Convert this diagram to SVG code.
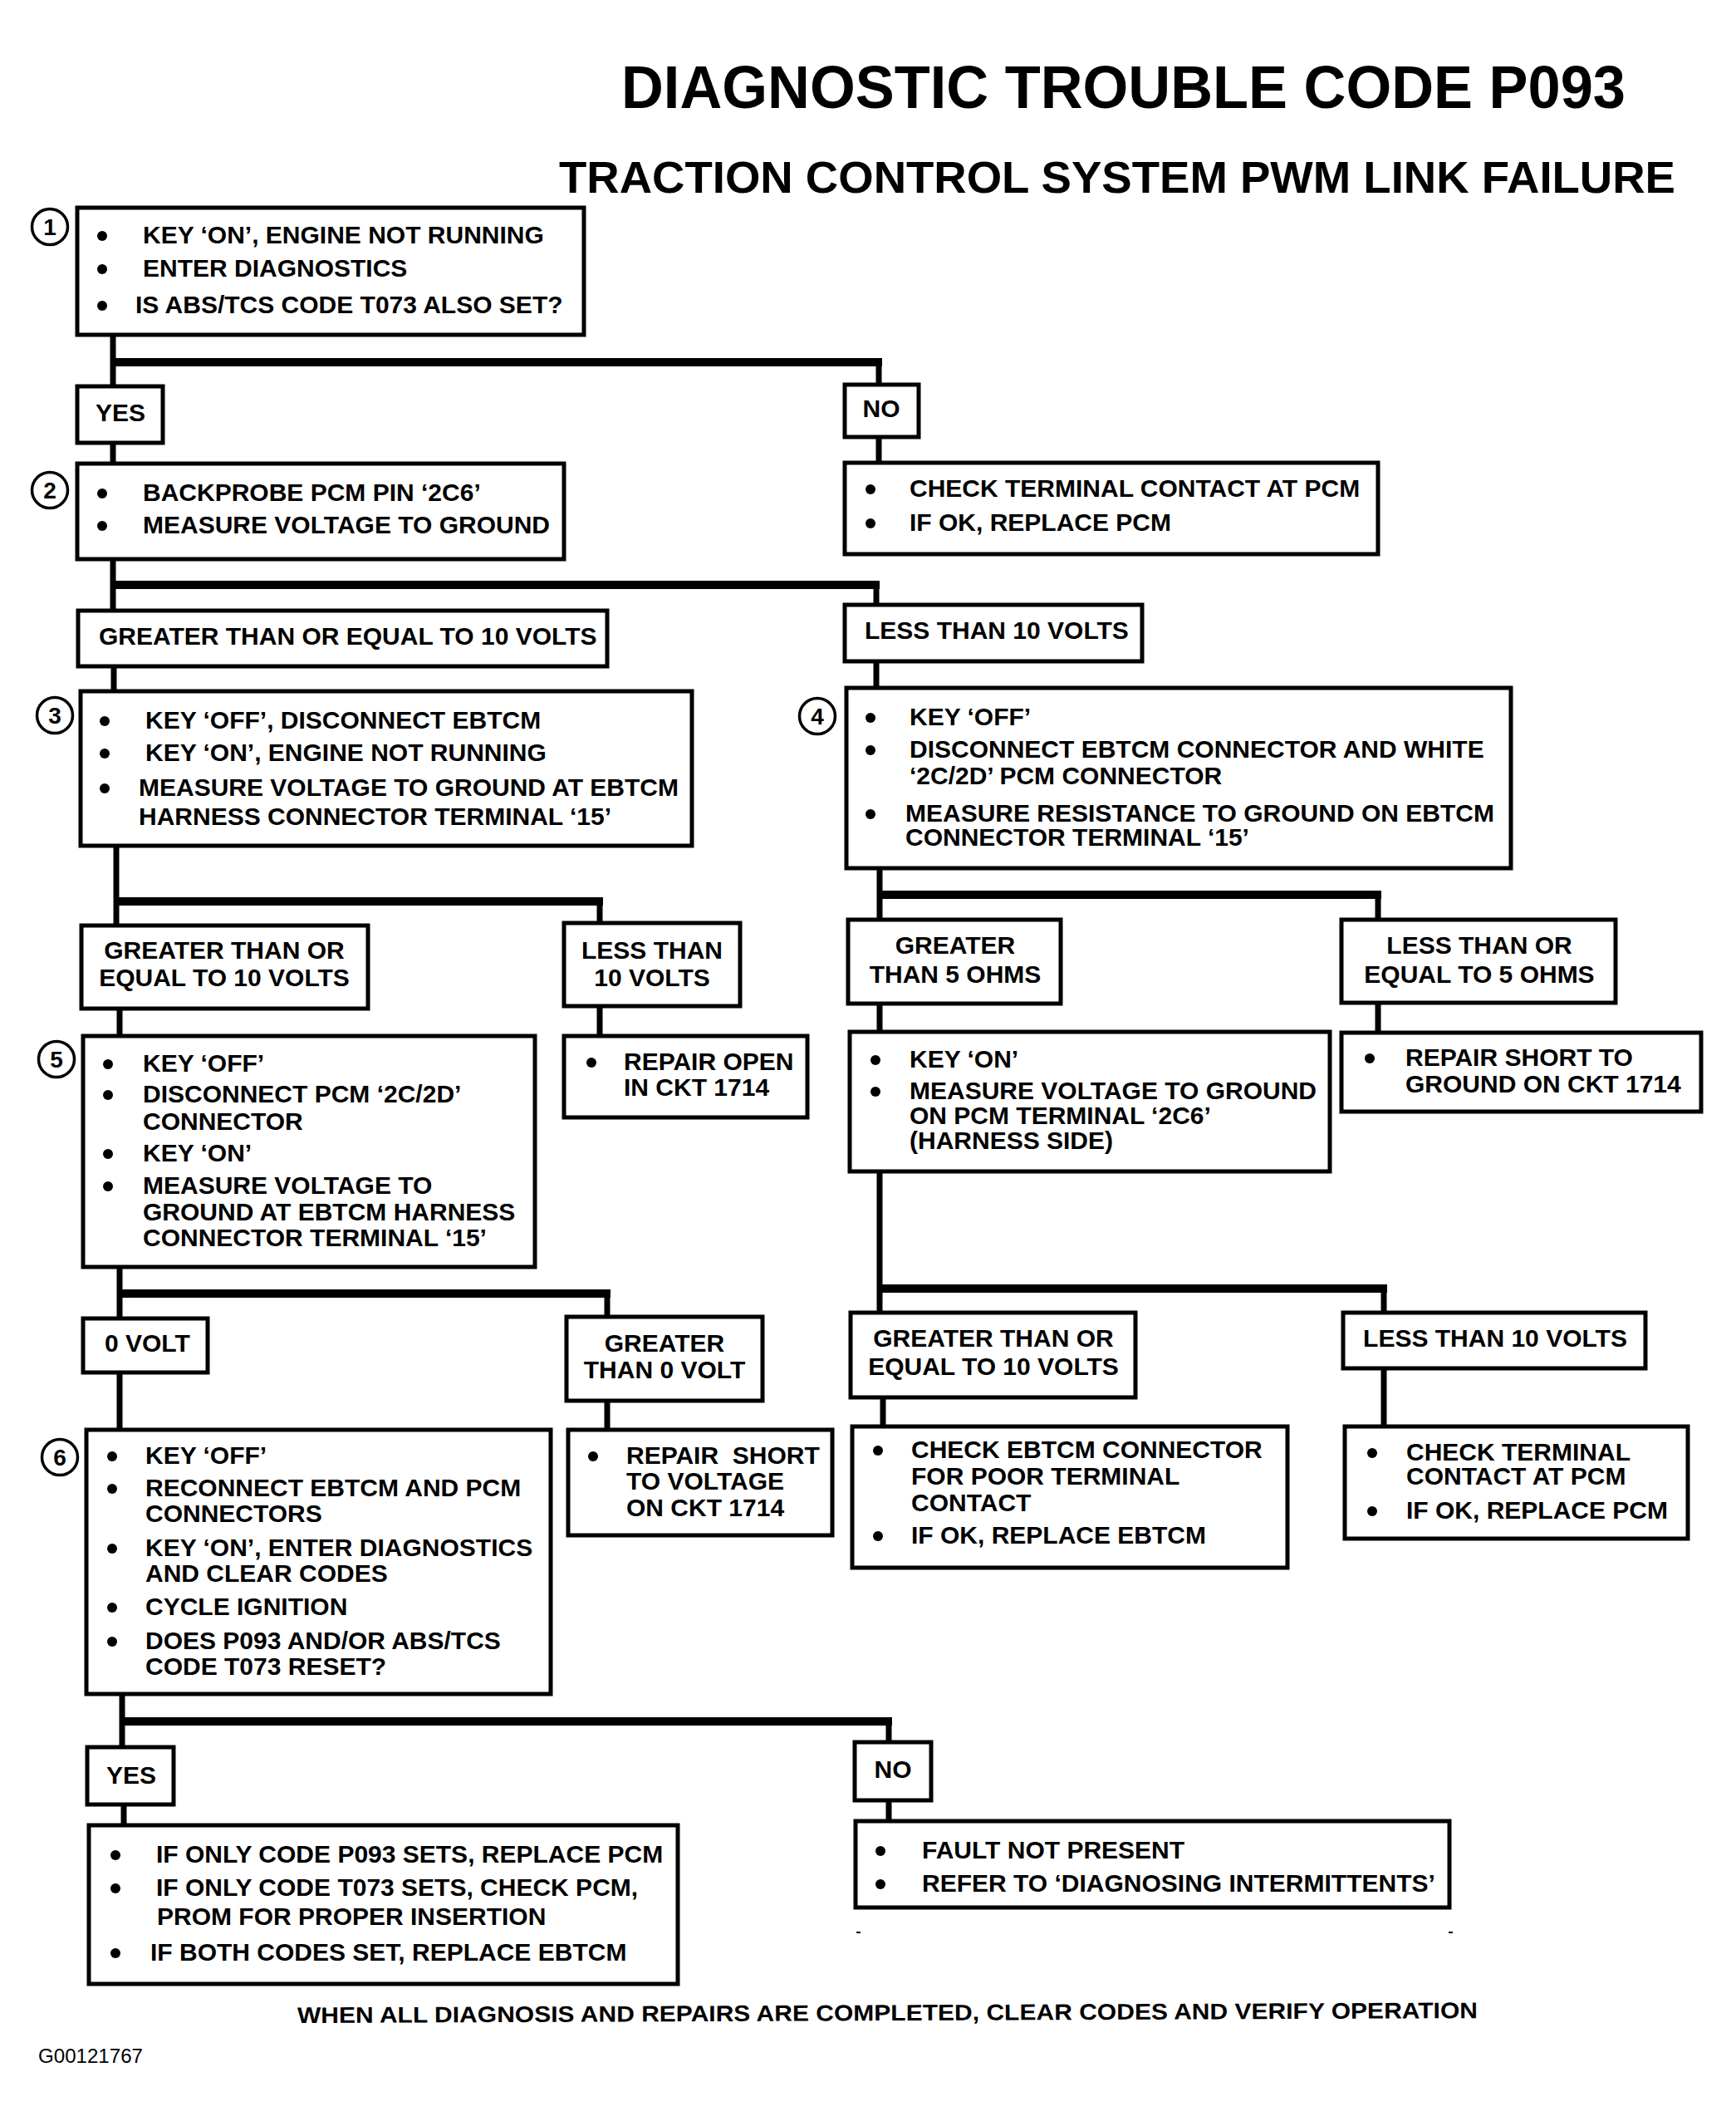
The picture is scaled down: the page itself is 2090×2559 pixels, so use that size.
<svg xmlns="http://www.w3.org/2000/svg" width="2090" height="2559" viewBox="0 0 2090 2559">
<style>
.box{fill:#fff;stroke:#000;stroke-width:5}
.t{font-family:"Liberation Sans",Arial,Helvetica,sans-serif;font-weight:bold;font-size:30px;fill:#000}
.c{text-anchor:middle}
.num{fill:#fff;stroke:#000;stroke-width:3.5}
.nt{font-family:"Liberation Sans",Arial,sans-serif;font-weight:bold;font-size:28px;text-anchor:middle;fill:#000}
.b{fill:#000}
.v{stroke:#000;stroke-width:7;fill:none}
.h{stroke:#000;stroke-width:10;fill:none}
</style>
<rect x="0" y="0" width="2090" height="2559" fill="#fff"/>
<text class="t" x="748" y="130" style="font-size:72px" textLength="1209" lengthAdjust="spacingAndGlyphs">DIAGNOSTIC TROUBLE CODE P093</text>
<text class="t" x="673" y="232" style="font-size:53px" textLength="1344" lengthAdjust="spacingAndGlyphs">TRACTION CONTROL SYSTEM PWM LINK FAILURE</text>

<g id="connectors">
<path class="v" d="M136,403 V465 M1058,436 V463 M1058,526 V557"/>
<path class="h" d="M136,436 H1062"/>
<path class="v" d="M136,533 V558"/>
<path class="v" d="M136,673 V735 M1055,704 V728"/>
<path class="h" d="M136,704 H1059"/>
<path class="v" d="M137,802 V832 M1055,796 V828"/>
<path class="v" d="M140,1018 V1114 M722,1085 V1111"/>
<path class="h" d="M140,1085 H726"/>
<path class="v" d="M144,1214 V1247 M722,1211 V1247"/>
<path class="v" d="M1059,1045 V1107 M1659,1077 V1107"/>
<path class="h" d="M1059,1077 H1663"/>
<path class="v" d="M1059,1208 V1242 M1659,1207 V1243"/>
<path class="v" d="M144,1525 V1587 M731,1557 V1585"/>
<path class="h" d="M144,1557 H735"/>
<path class="v" d="M144,1652 V1721 M731,1686 V1721"/>
<path class="v" d="M1059,1410 V1580 M1666,1551 V1580"/>
<path class="h" d="M1059,1551 H1670"/>
<path class="v" d="M1063,1682 V1717 M1666,1647 V1717"/>
<path class="v" d="M147,2039 V2103 M1070,2072 V2097"/>
<path class="h" d="M147,2072 H1074"/>
<path class="v" d="M149,2172 V2197 M1070,2167 V2192"/>
</g>

<g id="step1">
<circle class="num" cx="60" cy="273" r="21.5"/><text class="nt" x="60" y="283">1</text>
<rect class="box" x="93" y="250" width="610" height="153"/>
<circle class="b" cx="123" cy="284" r="6"/><circle class="b" cx="123" cy="324" r="6"/><circle class="b" cx="123" cy="368" r="6"/>
<text class="t" x="172" y="293">KEY ‘ON’, ENGINE NOT RUNNING</text>
<text class="t" x="172" y="333">ENTER DIAGNOSTICS</text>
<text class="t" x="163" y="377">IS ABS/TCS CODE T073 ALSO SET?</text>
</g>
<g id="yes1"><rect class="box" x="93" y="465" width="103" height="68"/><text class="t c" x="145" y="507">YES</text></g>
<g id="no1"><rect class="box" x="1017" y="463" width="89" height="63"/><text class="t c" x="1061" y="502">NO</text></g>
<g id="no1-result">
<rect class="box" x="1017" y="557" width="642" height="110"/>
<circle class="b" cx="1048" cy="589" r="6"/><circle class="b" cx="1048" cy="630" r="6"/>
<text class="t" x="1095" y="598">CHECK TERMINAL CONTACT AT PCM</text>
<text class="t" x="1095" y="639">IF OK, REPLACE PCM</text>
</g>

<g id="step2">
<circle class="num" cx="60" cy="590" r="21.5"/><text class="nt" x="60" y="600">2</text>
<rect class="box" x="93" y="558" width="586" height="115"/>
<circle class="b" cx="123" cy="594" r="6"/><circle class="b" cx="123" cy="633" r="6"/>
<text class="t" x="172" y="603">BACKPROBE PCM PIN ‘2C6’</text>
<text class="t" x="172" y="642">MEASURE VOLTAGE TO GROUND</text>
</g>
<g id="gte10-a"><rect class="box" x="94" y="735" width="637" height="67"/><text class="t" x="119" y="776">GREATER THAN OR EQUAL TO 10 VOLTS</text></g>
<g id="lt10-a"><rect class="box" x="1017" y="728" width="358" height="68"/><text class="t" x="1041" y="769">LESS THAN 10 VOLTS</text></g>

<g id="step3">
<circle class="num" cx="66" cy="861" r="21.5"/><text class="nt" x="66" y="871">3</text>
<rect class="box" x="97" y="832" width="736" height="186"/>
<circle class="b" cx="126" cy="868" r="6"/><circle class="b" cx="126" cy="907" r="6"/><circle class="b" cx="126" cy="949" r="6"/>
<text class="t" x="175" y="877">KEY ‘OFF’, DISCONNECT EBTCM</text>
<text class="t" x="175" y="916">KEY ‘ON’, ENGINE NOT RUNNING</text>
<text class="t" x="167" y="958">MEASURE VOLTAGE TO GROUND AT EBTCM</text>
<text class="t" x="167" y="993">HARNESS CONNECTOR TERMINAL ‘15’</text>
</g>

<g id="step4">
<circle class="num" cx="984" cy="862" r="21.5"/><text class="nt" x="984" y="872">4</text>
<rect class="box" x="1019" y="828" width="800" height="217"/>
<circle class="b" cx="1048" cy="864" r="6"/><circle class="b" cx="1048" cy="903" r="6"/><circle class="b" cx="1048" cy="980" r="6"/>
<text class="t" x="1095" y="873">KEY ‘OFF’</text>
<text class="t" x="1095" y="912">DISCONNECT EBTCM CONNECTOR AND WHITE</text>
<text class="t" x="1095" y="944">‘2C/2D’ PCM CONNECTOR</text>
<text class="t" x="1090" y="989">MEASURE RESISTANCE TO GROUND ON EBTCM</text>
<text class="t" x="1090" y="1018">CONNECTOR TERMINAL ‘15’</text>
</g>

<g id="gte10-b"><rect class="box" x="98" y="1114" width="345" height="100"/>
<text class="t c" x="270" y="1154">GREATER THAN OR</text><text class="t c" x="270" y="1187">EQUAL TO 10 VOLTS</text></g>
<g id="lt10-b"><rect class="box" x="679" y="1111" width="212" height="100"/>
<text class="t c" x="785" y="1154">LESS THAN</text><text class="t c" x="785" y="1187">10 VOLTS</text></g>
<g id="gt5"><rect class="box" x="1021" y="1107" width="256" height="101"/>
<text class="t c" x="1150" y="1148">GREATER</text><text class="t c" x="1150" y="1183">THAN 5 OHMS</text></g>
<g id="lte5"><rect class="box" x="1615" y="1107" width="330" height="100"/>
<text class="t c" x="1781" y="1148">LESS THAN OR</text><text class="t c" x="1781" y="1183">EQUAL TO 5 OHMS</text></g>

<g id="step5">
<circle class="num" cx="68" cy="1275" r="21.5"/><text class="nt" x="68" y="1285">5</text>
<rect class="box" x="100" y="1247" width="544" height="278"/>
<circle class="b" cx="130" cy="1281" r="6"/><circle class="b" cx="130" cy="1318" r="6"/><circle class="b" cx="130" cy="1389" r="6"/><circle class="b" cx="130" cy="1428" r="6"/>
<text class="t" x="172" y="1290">KEY ‘OFF’</text>
<text class="t" x="172" y="1327">DISCONNECT PCM ‘2C/2D’</text>
<text class="t" x="172" y="1360">CONNECTOR</text>
<text class="t" x="172" y="1398">KEY ‘ON’</text>
<text class="t" x="172" y="1437">MEASURE VOLTAGE TO</text>
<text class="t" x="172" y="1469">GROUND AT EBTCM HARNESS</text>
<text class="t" x="172" y="1500">CONNECTOR TERMINAL ‘15’</text>
</g>
<g id="repair-open"><rect class="box" x="679" y="1247" width="293" height="98"/>
<circle class="b" cx="712" cy="1279" r="6"/>
<text class="t" x="751" y="1288">REPAIR OPEN</text><text class="t" x="751" y="1319">IN CKT 1714</text></g>

<g id="step7">
<rect class="box" x="1023" y="1242" width="578" height="168"/>
<circle class="b" cx="1054" cy="1276" r="6"/><circle class="b" cx="1054" cy="1314" r="6"/>
<text class="t" x="1095" y="1285">KEY ‘ON’</text>
<text class="t" x="1095" y="1323">MEASURE VOLTAGE TO GROUND</text>
<text class="t" x="1095" y="1353">ON PCM TERMINAL ‘2C6’</text>
<text class="t" x="1095" y="1383">(HARNESS SIDE)</text>
</g>
<g id="repair-short-ground"><rect class="box" x="1615" y="1243" width="433" height="95"/>
<circle class="b" cx="1649" cy="1274" r="6"/>
<text class="t" x="1692" y="1283">REPAIR SHORT TO</text><text class="t" x="1692" y="1315">GROUND ON CKT 1714</text></g>

<g id="zero-volt"><rect class="box" x="100" y="1587" width="150" height="65"/><text class="t" x="126" y="1627">0 VOLT</text></g>
<g id="gt0"><rect class="box" x="682" y="1585" width="236" height="101"/>
<text class="t c" x="800" y="1627">GREATER</text><text class="t c" x="800" y="1659">THAN 0 VOLT</text></g>
<g id="gte10-c"><rect class="box" x="1024" y="1580" width="343" height="102"/>
<text class="t c" x="1196" y="1621">GREATER THAN OR</text><text class="t c" x="1196" y="1655">EQUAL TO 10 VOLTS</text></g>
<g id="lt10-c"><rect class="box" x="1617" y="1580" width="364" height="67"/><text class="t c" x="1800" y="1621">LESS THAN 10 VOLTS</text></g>

<g id="step6">
<circle class="num" cx="72" cy="1754" r="21.5"/><text class="nt" x="72" y="1764">6</text>
<rect class="box" x="104" y="1721" width="559" height="318"/>
<circle class="b" cx="135" cy="1753" r="6"/><circle class="b" cx="135" cy="1792" r="6"/><circle class="b" cx="135" cy="1864" r="6"/><circle class="b" cx="135" cy="1935" r="6"/><circle class="b" cx="135" cy="1976" r="6"/>
<text class="t" x="175" y="1762">KEY ‘OFF’</text>
<text class="t" x="175" y="1801">RECONNECT EBTCM AND PCM</text>
<text class="t" x="175" y="1832">CONNECTORS</text>
<text class="t" x="175" y="1873">KEY ‘ON’, ENTER DIAGNOSTICS</text>
<text class="t" x="175" y="1904">AND CLEAR CODES</text>
<text class="t" x="175" y="1944">CYCLE IGNITION</text>
<text class="t" x="175" y="1985">DOES P093 AND/OR ABS/TCS</text>
<text class="t" x="175" y="2016">CODE T073 RESET?</text>
</g>
<g id="repair-short-voltage"><rect class="box" x="684" y="1721" width="318" height="127"/>
<circle class="b" cx="714" cy="1753" r="6"/>
<text class="t" x="754" y="1762" xml:space="preserve">REPAIR  SHORT</text><text class="t" x="754" y="1793">TO VOLTAGE</text><text class="t" x="754" y="1825">ON CKT 1714</text></g>
<g id="check-ebtcm"><rect class="box" x="1026" y="1717" width="524" height="170"/>
<circle class="b" cx="1057" cy="1746" r="6"/><circle class="b" cx="1057" cy="1849" r="6"/>
<text class="t" x="1097" y="1755">CHECK EBTCM CONNECTOR</text>
<text class="t" x="1097" y="1787">FOR POOR TERMINAL</text>
<text class="t" x="1097" y="1819">CONTACT</text>
<text class="t" x="1097" y="1858">IF OK, REPLACE EBTCM</text></g>
<g id="check-terminal-2"><rect class="box" x="1619" y="1717" width="413" height="135"/>
<circle class="b" cx="1652" cy="1749" r="6"/><circle class="b" cx="1652" cy="1819" r="6"/>
<text class="t" x="1693" y="1758">CHECK TERMINAL</text>
<text class="t" x="1693" y="1787">CONTACT AT PCM</text>
<text class="t" x="1693" y="1828">IF OK, REPLACE PCM</text></g>

<g id="yes2"><rect class="box" x="105" y="2103" width="104" height="69"/><text class="t c" x="158" y="2147">YES</text></g>
<g id="no2"><rect class="box" x="1029" y="2097" width="92" height="70"/><text class="t c" x="1075" y="2140">NO</text></g>
<g id="yes2-result"><rect class="box" x="107" y="2197" width="709" height="191"/>
<circle class="b" cx="139" cy="2233" r="6"/><circle class="b" cx="139" cy="2273" r="6"/><circle class="b" cx="139" cy="2351" r="6"/>
<text class="t" x="188" y="2242">IF ONLY CODE P093 SETS, REPLACE PCM</text>
<text class="t" x="188" y="2282">IF ONLY CODE T073 SETS, CHECK PCM,</text>
<text class="t" x="189" y="2317">PROM FOR PROPER INSERTION</text>
<text class="t" x="181" y="2360">IF BOTH CODES SET, REPLACE EBTCM</text></g>
<g id="no2-result"><rect class="box" x="1030" y="2192" width="715" height="104"/>
<circle class="b" cx="1060" cy="2228" r="6"/><circle class="b" cx="1060" cy="2268" r="6"/>
<text class="t" x="1110" y="2237">FAULT NOT PRESENT</text>
<text class="t" x="1110" y="2277">REFER TO ‘DIAGNOSING INTERMITTENTS’</text></g>
<rect x="1031" y="2325" width="5" height="2" fill="#000"/>
<rect x="1744" y="2325" width="5" height="2" fill="#000"/>

<text class="t" x="358" y="2435" style="font-size:27px" textLength="1421" lengthAdjust="spacingAndGlyphs" transform="rotate(-0.24 358 2435)">WHEN ALL DIAGNOSIS AND REPAIRS ARE COMPLETED, CLEAR CODES AND VERIFY OPERATION</text>
<text x="46" y="2483" font-family="Liberation Sans, Arial, sans-serif" font-size="24" textLength="126" lengthAdjust="spacingAndGlyphs">G00121767</text>
</svg>
